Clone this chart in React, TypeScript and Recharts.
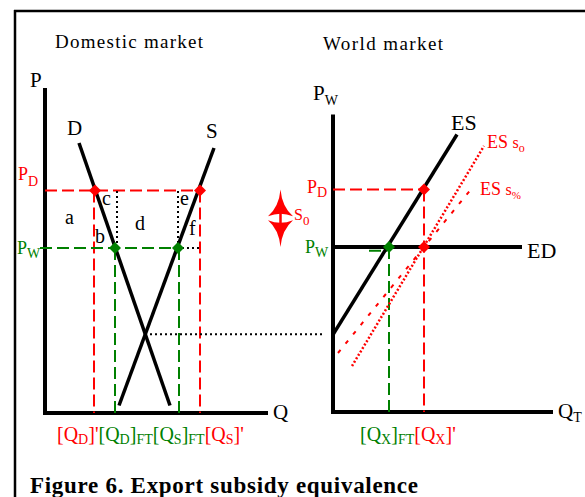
import React from 'react';
import { ComposedChart, Line, XAxis, YAxis, ReferenceLine, ReferenceDot, ReferenceArea } from 'recharts';

const FONT = "'Liberation Serif', 'Times New Roman', serif";
const RED = '#ff0000';
const GREEN = '#008000';

// prices shared by both panels: [P_W, P_D]
const prices = [6.6, 8.9];

// domestic market
const domesticRange = [22.3, 13]; // Q max, P max
const domesticQty = [4.9, 7.0, 13.4, 15.5]; // [QD]', [QD]FT, [QS]FT, [QS]'
const demandCurve = [{ q: 3.4, p: 10.8 }, { q: 12.5, p: 0.3 }];
const supplyCurve = [{ q: 7.4, p: 0.3 }, { q: 16.9, p: 10.6 }];
const autarky = [10.0, 3.15]; // q, p where D meets S

// world market
const worldRange = [22, 11.9];
const exportQty = [5.6, 9.1]; // [QX]FT, [QX]'
const excessSupply = [{ q: 0, p: 3.1 }, { q: 12.4, p: 11.1 }];
const excessSupplyS0 = [{ q: 1.9, p: 1.84 }, { q: 15.1, p: 10.64 }];
const excessSupplyPct = [{ q: 0.5, p: 2.36 }, { q: 13.9, p: 8.96 }];
const edEnd = 18.9;
const excessDemand = [{ q: 0, p: prices[0] }, { q: edEnd, p: prices[0] }];

type Seg = { t: string; sub?: boolean; c?: string; size?: number };

const Rich = ({ x, y, segs, size = 20, subSize = 14, shift = 4, fill = '#000' }: any) => {
  let cur = 0;
  return (
    <text x={x} y={y} fontFamily={FONT} fontSize={size} fill={fill}>
      {segs.map((s: Seg, i: number) => {
        const target = s.sub ? shift : 0;
        const dy = target - cur;
        cur = target;
        return (
          <tspan key={i} dy={dy} fontSize={s.size || (s.sub ? subSize : size)} fill={s.c || fill}>
            {s.t}
          </tspan>
        );
      })}
    </text>
  );
};

// text placed relative to a data point
const tag = (key: string, x: number, y: number, dx: number, dy: number, segs: Seg[], opts: any = {}) => (
  <ReferenceDot
    key={key}
    x={x}
    y={y}
    r={0}
    ifOverflow="visible"
    shape={(p: any) => <Rich x={p.cx + dx} y={p.cy + dy} segs={segs} {...opts} />}
  />
);

const diamond = (key: string, x: number, y: number, color: string) => (
  <ReferenceDot
    key={key}
    x={x}
    y={y}
    r={6}
    ifOverflow="visible"
    shape={(p: any) => (
      <path d={`M${p.cx},${p.cy - 6}L${p.cx + 6},${p.cy}L${p.cx},${p.cy + 6}L${p.cx - 6},${p.cy}Z`} fill={color} />
    )}
  />
);

const seg = (key: string, x1: number, y1: number, x2: number, y2: number, stroke: string, width: number, dash?: string) => (
  <ReferenceLine
    key={key}
    segment={[{ x: x1, y: y1 }, { x: x2, y: y2 }]}
    stroke={stroke}
    strokeWidth={width}
    strokeDasharray={dash}
    ifOverflow="visible"
  />
);

const DoubleArrow = (p: any) => {
  const { x, y, width: w, height: h } = p;
  const cx = x + w / 2;
  const mid = y + h / 2;
  const up = `M${cx},${y} Q${cx + 1.5},${y + 0.3 * h} ${x + w},${mid - 2} Q${cx},${mid - 7} ${x},${mid - 2} Q${cx - 1.5},${y + 0.3 * h} ${cx},${y} Z`;
  const down = `M${cx},${y + h} Q${cx + 1.5},${y + 0.7 * h} ${x + w},${mid + 2} Q${cx},${mid + 7} ${x},${mid + 2} Q${cx - 1.5},${y + 0.7 * h} ${cx},${y + h} Z`;
  return (
    <g>
      <path d={up} fill={RED} />
      <path d={down} fill={RED} />
      <line x1={cx} x2={cx} y1={y + 0.3 * h} y2={y + 0.7 * h} stroke={RED} strokeWidth={2.5} />
    </g>
  );
};

const DASH = '12 5';

const App = () => {
  const [pW, pD] = prices;
  const [qDp, qDft, qSft, qSp] = domesticQty;
  const [qXft, qXp] = exportQty;
  const [eqQ, eqP] = autarky;

  return (
    <div style={{ position: 'absolute', left: 0, top: 0, width: 585, height: 497, background: '#fff', overflow: 'hidden' }}>
      <svg width={585} height={497} style={{ position: 'absolute', left: 0, top: 0 }}>
        <line x1={14} y1={11} x2={585} y2={11} stroke="#000" strokeWidth={2.5} />
        <line x1={15} y1={10} x2={15} y2={497} stroke="#000" strokeWidth={2.5} />
        <text x={55} y={48} fontFamily={FONT} fontSize={19} textLength={148} lengthAdjust="spacing">Domestic market</text>
        <text x={323} y={50} fontFamily={FONT} fontSize={19} textLength={120} lengthAdjust="spacing">World market</text>
        <text x={30} y={493} fontFamily={FONT} fontSize={23} fontWeight="bold" textLength={388} lengthAdjust="spacing">
          Figure 6. Export subsidy equivalence
        </text>
      </svg>

      {/* domestic market */}
      <div style={{ position: 'absolute', left: 0, top: 0 }}>
        <ComposedChart width={585} height={497} margin={{ top: 88, bottom: 84, left: 45, right: 317 }}>
          <XAxis type="number" dataKey="q" domain={[0, domesticRange[0]]} allowDataOverflow hide />
          <YAxis type="number" dataKey="p" domain={[0, domesticRange[1]]} allowDataOverflow hide />
          {seg('ax', 0, 0, domesticRange[0], 0, '#000', 4)}
          {seg('ay', 0, -0.08, 0, domesticRange[1], '#000', 4)}

          {seg('pd', 0, pD, qSp, pD, RED, 2, DASH)}
          {seg('qdp', qDp, pD, qDp, 0, RED, 2, DASH)}
          {seg('qsp', qSp, pD, qSp, 0, RED, 2, DASH)}
          {seg('pw', -0.5, pW, qSft, pW, GREEN, 2, DASH)}
          {seg('qdft', qDft, pW, qDft, 0, GREEN, 2, DASH)}
          {seg('qsft', qSft, pW, qSft, 0, GREEN, 2, DASH)}
          {seg('dot1', qDft + 0.2, pW, qDft + 0.2, pD, '#000', 2, '2 3')}
          {seg('dot2', qSft - 0.1, pW, qSft - 0.1, pD, '#000', 2, '2 3')}
          {seg('dot3', qSft + 0.3, pW, qSp, pW, '#000', 2, '2 3')}
          {seg('link', eqQ, eqP, 27.8, eqP, '#000', 2, '2 3')}

          <Line data={demandCurve} dataKey="p" stroke="#000" strokeWidth={3.5} dot={false} activeDot={false} isAnimationActive={false} />
          <Line data={supplyCurve} dataKey="p" stroke="#000" strokeWidth={3.5} dot={false} activeDot={false} isAnimationActive={false} />

          {diamond('r1', qDp + 0.1, pD, RED)}
          {diamond('r2', qSp, pD, RED)}
          {diamond('g1', qDft, pW, GREEN)}
          {diamond('g2', qSft - 0.1, pW, GREEN)}

          {tag('P', 0, domesticRange[1], -15, -1, [{ t: 'P' }], { size: 21 })}
          {tag('Q', domesticRange[0], 0, 5, 6, [{ t: 'Q' }], { size: 21 })}
          {tag('D', demandCurve[0].q, demandCurve[0].p, -12, -8, [{ t: 'D' }], { size: 21 })}
          {tag('S', supplyCurve[1].q, supplyCurve[1].p, -8, -10, [{ t: 'S' }], { size: 21 })}
          {tag('lpd', 0, pD, -27, -11, [{ t: 'P' }, { t: 'D', sub: true }], { size: 18, subSize: 14, shift: 6, fill: RED })}
          {tag('lpw', 0, pW, -28, 6, [{ t: 'P' }, { t: 'W', sub: true }], { size: 18, subSize: 14, shift: 4, fill: GREEN })}
          {tag('a', 0, pW, 20, -24, [{ t: 'a' }])}
          {tag('b', qDft, pW, -20, -5, [{ t: 'b' }])}
          {tag('c', qDp, pD, 8, 14, [{ t: 'c' }])}
          {tag('d', qDft, pW, 20, -18, [{ t: 'd' }])}
          {tag('e', qSp, pD, -20, 14, [{ t: 'e' }])}
          {tag('f', qSp, pD, -11, 44, [{ t: 'f' }])}
          {tag('qlab', qDp, 0, -37, 28, [
            { t: '[Q', c: RED }, { t: 'D', sub: true, c: RED }, { t: "]'", c: RED },
            { t: '[Q', c: GREEN }, { t: 'D', sub: true, c: GREEN }, { t: ']', c: GREEN }, { t: 'FT', sub: true, c: GREEN },
            { t: '[Q', c: GREEN }, { t: 'S', sub: true, c: GREEN }, { t: ']', c: GREEN }, { t: 'FT', sub: true, c: GREEN },
            { t: '[Q', c: RED }, { t: 'S', sub: true, c: RED }, { t: "]'", c: RED },
          ], { size: 20, subSize: 14, shift: 3 })}
        </ComposedChart>
      </div>

      {/* world market */}
      <div style={{ position: 'absolute', left: 0, top: 0 }}>
        <ComposedChart width={585} height={497} margin={{ top: 114.5, bottom: 85, left: 333, right: 32 }}>
          <XAxis type="number" dataKey="q" domain={[0, worldRange[0]]} allowDataOverflow hide />
          <YAxis type="number" dataKey="p" domain={[0, worldRange[1]]} allowDataOverflow hide />
          {seg('ax', 0, 0, worldRange[0], 0, '#000', 4)}
          {seg('ay', 0, -0.08, 0, worldRange[1], '#000', 4)}

          {seg('pd', 0, pD, qXp, pD, RED, 2, DASH)}
          {seg('qxp', qXp, pD, qXp, 0, RED, 2, DASH)}
          {seg('qxft', qXft, pW, qXft, 0, GREEN, 2, DASH)}
          {seg('stub', 3.6, pW - 0.15, qXft - 0.2, pW - 0.15, GREEN, 2, DASH)}

          <Line data={excessSupplyPct} dataKey="p" stroke={RED} strokeWidth={2} strokeDasharray="4 8" dot={false} activeDot={false} isAnimationActive={false} />
          <Line data={excessSupplyS0} dataKey="p" stroke={RED} strokeWidth={2.5} strokeDasharray="2 2" dot={false} activeDot={false} isAnimationActive={false} />
          <Line data={excessDemand} dataKey="p" stroke="#000" strokeWidth={4} dot={false} activeDot={false} isAnimationActive={false} />
          <Line data={excessSupply} dataKey="p" stroke="#000" strokeWidth={3.5} dot={false} activeDot={false} isAnimationActive={false} />

          <ReferenceArea x1={-6.5} x2={-4.0} y1={pW} y2={pD} ifOverflow="visible" shape={DoubleArrow} />

          {diamond('r1', qXp, pD, RED)}
          {diamond('r2', qXp, pW, RED)}
          {diamond('g1', qXft, pW, GREEN)}

          {tag('P', 0, worldRange[1], -20, -14.5, [{ t: 'P' }, { t: 'W', sub: true }], { size: 21, subSize: 14, shift: 5 })}
          {tag('Q', worldRange[0], 0, 5, 6, [{ t: 'Q' }, { t: 'T', sub: true }], { size: 21, subSize: 14, shift: 4 })}
          {tag('ES', excessSupply[1].q, excessSupply[1].p, -6, -5, [{ t: 'ES' }], { size: 22 })}
          {tag('ED', edEnd, pW, 5, 11, [{ t: 'ED' }], { size: 22 })}
          {tag('ES0', excessSupplyS0[1].q, excessSupplyS0[1].p, 3, 2, [{ t: 'ES ' }, { t: 's', size: 16 }, { t: 'o', sub: true }], { size: 18, subSize: 12, shift: 4, fill: RED })}
          {tag('ESp', excessSupplyPct[1].q, excessSupplyPct[1].p, 8, 7, [{ t: 'ES ' }, { t: 's', size: 16 }, { t: '%', sub: true }], { size: 18, subSize: 11, shift: 4, fill: RED })}
          {tag('lpd', 0, pD, -26, 3.5, [{ t: 'P' }, { t: 'D', sub: true }], { size: 18, subSize: 14, shift: 4, fill: RED })}
          {tag('lpw', 0, pW, -28, 6, [{ t: 'P' }, { t: 'W', sub: true }], { size: 18, subSize: 14, shift: 4, fill: GREEN })}
          {tag('s0', 0, pD, -39, 30.5, [{ t: 'S' }, { t: '0', sub: true }], { size: 16, subSize: 13, shift: 5, fill: RED })}
          {tag('qx', qXft, 0, -29, 29, [
            { t: '[Q', c: GREEN }, { t: 'X', sub: true, c: GREEN }, { t: ']', c: GREEN }, { t: 'FT', sub: true, c: GREEN },
            { t: '[Q', c: RED }, { t: 'X', sub: true, c: RED }, { t: "]'", c: RED },
          ], { size: 20, subSize: 14, shift: 3 })}
        </ComposedChart>
      </div>
    </div>
  );
};

export default App;
